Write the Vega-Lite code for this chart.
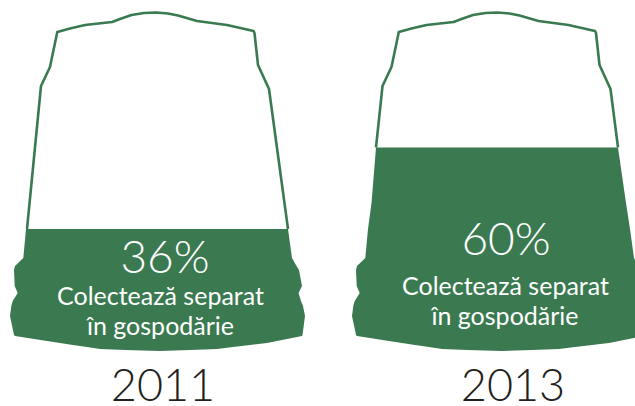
{"$schema":"https://vega.github.io/schema/vega-lite/v6.json","width":635,"height":406,"autosize":"none","padding":0,"background":"white","view":{"stroke":null},
"datasets":{
"fill":[
{"cap":"2011","y":229,"l":26,"r":288},{"cap":"2011","y":258,"l":23.3,"r":292},{"cap":"2011","y":266,"l":15,"r":296.5},{"cap":"2011","y":270,"l":14,"r":299},{"cap":"2011","y":286,"l":14.7,"r":302},{"cap":"2011","y":293,"l":17.7,"r":298.5},{"cap":"2011","y":301,"l":12.7,"r":301},{"cap":"2011","y":306,"l":11.3,"r":303},{"cap":"2011","y":316,"l":10,"r":305},{"cap":"2011","y":335,"l":14,"r":302.5},{"cap":"2011","y":336,"l":15,"r":302},{"cap":"2011","y":341,"l":47,"r":277},{"cap":"2011","y":343,"l":60,"r":267},{"cap":"2011","y":345,"l":73,"r":250},{"cap":"2011","y":347,"l":87,"r":233},{"cap":"2011","y":349,"l":100,"r":217},{"cap":"2011","y":350,"l":125,"r":190},{"cap":"2011","y":351,"l":160,"r":160},
{"cap":"2013","y":147.5,"l":376,"r":618},{"cap":"2013","y":203,"l":371.5,"r":626},{"cap":"2013","y":229,"l":368,"r":630},{"cap":"2013","y":258,"l":365.3,"r":634},{"cap":"2013","y":266,"l":357,"r":638.5},{"cap":"2013","y":270,"l":356,"r":641},{"cap":"2013","y":286,"l":356.7,"r":644},{"cap":"2013","y":293,"l":359.7,"r":640.5},{"cap":"2013","y":301,"l":354.7,"r":643},{"cap":"2013","y":306,"l":353.3,"r":645},{"cap":"2013","y":316,"l":352,"r":647},{"cap":"2013","y":335,"l":356,"r":644.5},{"cap":"2013","y":336,"l":357,"r":644},{"cap":"2013","y":341,"l":389,"r":619},{"cap":"2013","y":343,"l":402,"r":609},{"cap":"2013","y":345,"l":415,"r":592},{"cap":"2013","y":347,"l":429,"r":575},{"cap":"2013","y":349,"l":442,"r":559},{"cap":"2013","y":350,"l":467,"r":532},{"cap":"2013","y":351,"l":502,"r":502}
],
"outline":[
{"cap":"2011","i":1,"x":27,"y":229},{"cap":"2011","i":2,"x":41,"y":86},{"cap":"2011","i":3,"x":50,"y":67},{"cap":"2011","i":4,"x":57.3,"y":32},{"cap":"2011","i":5,"x":70,"y":28.5},{"cap":"2011","i":6,"x":85,"y":25},{"cap":"2011","i":7,"x":112,"y":22},{"cap":"2011","i":8,"x":120,"y":19},{"cap":"2011","i":9,"x":131.5,"y":15},{"cap":"2011","i":10,"x":144,"y":13},{"cap":"2011","i":11,"x":156,"y":12.5},{"cap":"2011","i":12,"x":168,"y":13.5},{"cap":"2011","i":13,"x":178,"y":15.5},{"cap":"2011","i":14,"x":197,"y":21},{"cap":"2011","i":15,"x":227,"y":25},{"cap":"2011","i":16,"x":253.5,"y":31},{"cap":"2011","i":17,"x":254.5,"y":33},{"cap":"2011","i":18,"x":258,"y":65},{"cap":"2011","i":19,"x":269,"y":89},{"cap":"2011","i":20,"x":288,"y":229},
{"cap":"2013","i":1,"x":376,"y":147.5},{"cap":"2013","i":2,"x":382.5,"y":86},{"cap":"2013","i":3,"x":391.5,"y":67},{"cap":"2013","i":4,"x":398.8,"y":32},{"cap":"2013","i":5,"x":411.5,"y":28.5},{"cap":"2013","i":6,"x":426.5,"y":25},{"cap":"2013","i":7,"x":453.5,"y":22},{"cap":"2013","i":8,"x":461.5,"y":19},{"cap":"2013","i":9,"x":473,"y":15},{"cap":"2013","i":10,"x":485.5,"y":13},{"cap":"2013","i":11,"x":497.5,"y":12.5},{"cap":"2013","i":12,"x":509.5,"y":13.5},{"cap":"2013","i":13,"x":519.5,"y":15.5},{"cap":"2013","i":14,"x":538.5,"y":21},{"cap":"2013","i":15,"x":568.5,"y":25},{"cap":"2013","i":16,"x":595,"y":31},{"cap":"2013","i":17,"x":596,"y":33},{"cap":"2013","i":18,"x":599.5,"y":65},{"cap":"2013","i":19,"x":610.5,"y":89},{"cap":"2013","i":20,"x":618,"y":147.5}
],
"pct":[{"x":165,"y":273,"t":"36%"},{"x":506,"y":255,"t":"60%"}],
"sub":[{"x":160.5,"y":305,"t":"Colectează separat"},{"x":160.5,"y":335,"t":"în gospodărie"},{"x":505.5,"y":295,"t":"Colectează separat"},{"x":505,"y":325,"t":"în gospodărie"}],
"year":[{"x":163,"y":401,"t":"2011"},{"x":513,"y":401,"t":"2013"}]
},
"encoding":{"x":{"type":"quantitative","scale":{"domain":[0,635],"nice":false,"zero":false},"axis":null},"y":{"type":"quantitative","scale":{"domain":[406,0],"nice":false,"zero":false},"axis":null}},
"layer":[
{"data":{"name":"outline"},"mark":{"type":"line","color":"#3a7a50","strokeWidth":2.6,"strokeJoin":"round","clip":true},
"encoding":{"x":{"field":"x","type":"quantitative"},"y":{"field":"y","type":"quantitative"},"order":{"field":"i","type":"quantitative"},"detail":{"field":"cap"}}},
{"data":{"name":"fill"},"mark":{"type":"area","orient":"horizontal","color":"#3b7a50","clip":true},
"encoding":{"y":{"field":"y","type":"quantitative"},"x":{"field":"l","type":"quantitative"},"x2":{"field":"r"},"detail":{"field":"cap"}}},
{"data":{"name":"pct"},"mark":{"type":"text","font":"Lato","fontWeight":300,"fontSize":46,"color":"white","align":"center","baseline":"alphabetic"},
"encoding":{"x":{"field":"x","type":"quantitative"},"y":{"field":"y","type":"quantitative"},"text":{"field":"t"}}},
{"data":{"name":"sub"},"mark":{"type":"text","font":"Lato","fontWeight":400,"fontSize":25,"color":"white","align":"center","baseline":"alphabetic"},
"encoding":{"x":{"field":"x","type":"quantitative"},"y":{"field":"y","type":"quantitative"},"text":{"field":"t"}}},
{"data":{"name":"year"},"mark":{"type":"text","font":"Lato","fontWeight":300,"fontSize":45,"color":"#231f20","align":"center","baseline":"alphabetic"},
"encoding":{"x":{"field":"x","type":"quantitative"},"y":{"field":"y","type":"quantitative"},"text":{"field":"t"}}}
]}
